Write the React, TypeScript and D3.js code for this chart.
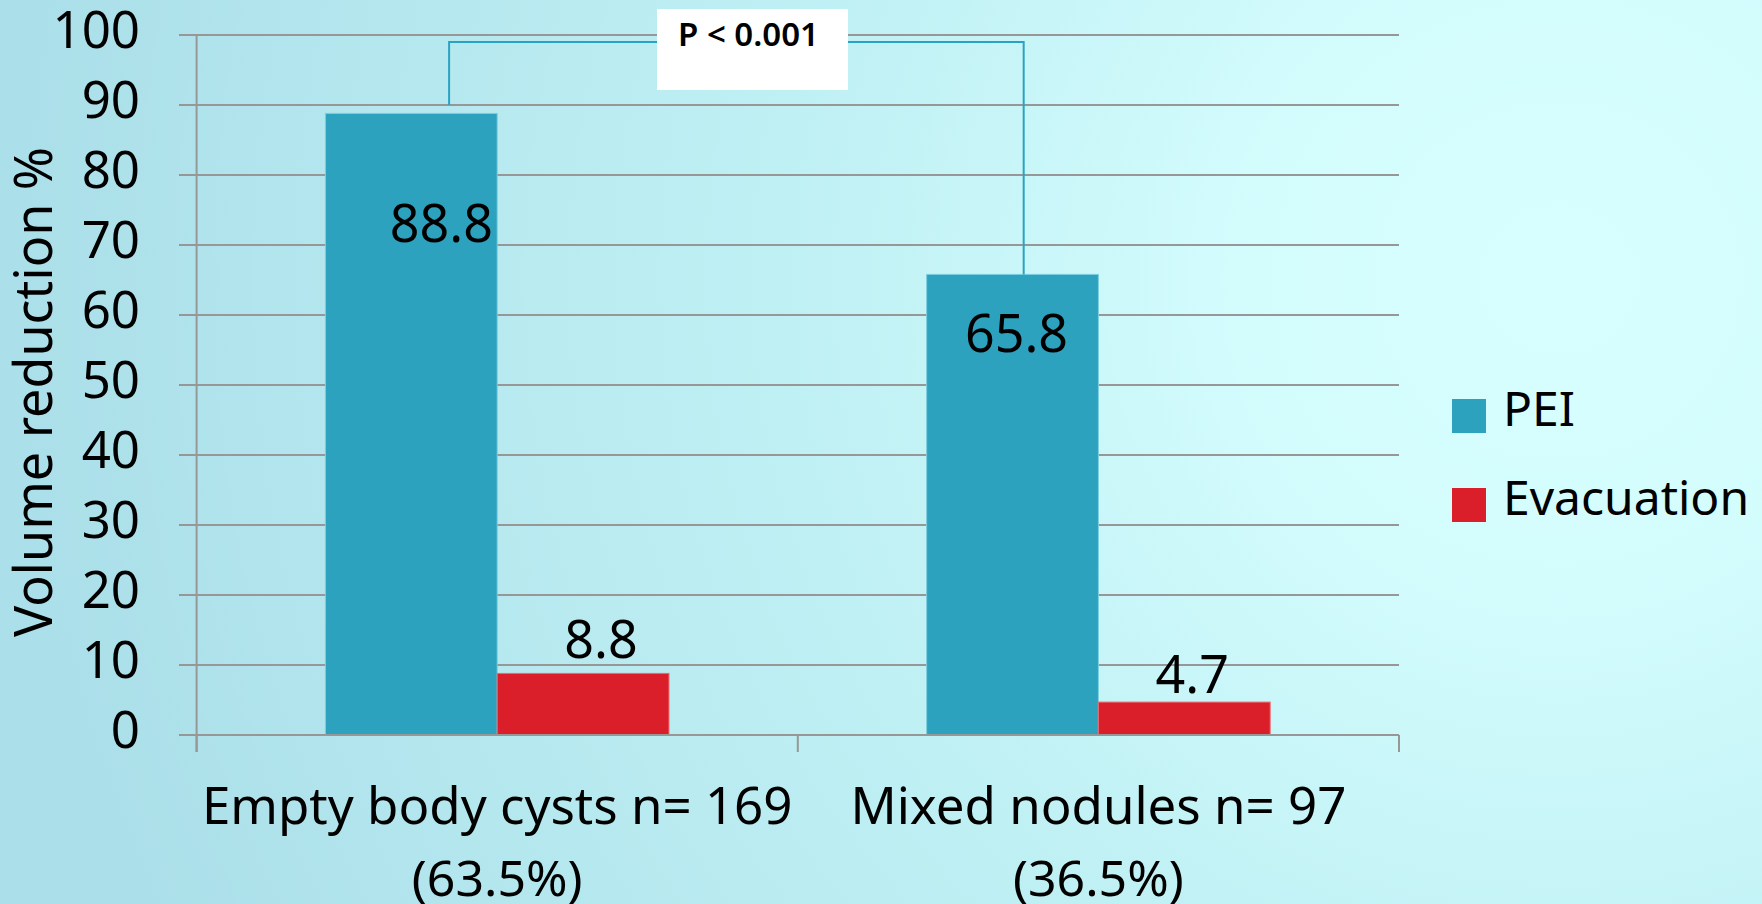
import { useRef, useEffect } from 'react';
import * as d3 from 'd3';

const categories = ['Empty body cysts n= 169', 'Mixed nodules n= 97'];
const categoryShares = ['(63.5%)', '(36.5%)'];
const series = ['PEI', 'Evacuation'];
const peiValues = [88.8, 65.8];
const evacuationValues = [8.8, 4.7];
const yTicks = [0, 10, 20, 30, 40, 50, 60, 70, 80, 90, 100];
const pLabel = 'P < 0.001';
const yTitle = 'Volume reduction %';

const colors: Record<string, string> = { PEI: '#2ca2bf', Evacuation: '#db1f2a' };
// hand-placed label nudges from the original slide (px: dx, dy from bar top)
const labelNudge: Record<string, [number, number][]> = {
  PEI: [[30, 108], [4, 57]],
  Evacuation: [[18, -36], [8, -30]],
};

const W = 1762;
const H = 904;
const FONT = '"Noto Sans", "Open Sans", sans-serif';

export default function App() {
  const svgRef = useRef<SVGSVGElement>(null);

  useEffect(() => {
    if (!svgRef.current) return;
    const svg = d3.select(svgRef.current);
    svg.selectAll('*').remove();

    const left = 196.6;
    const right = 1399;
    const top = 35;
    const bottom = 735;

    const x = d3.scaleBand<string>().domain(categories).range([left, right]);
    const xs = d3
      .scaleBand<string>()
      .domain(series)
      .range([0, x.bandwidth()])
      .paddingInner(0)
      .paddingOuter(0.75);
    const y = d3.scaleLinear().domain([0, 100]).range([bottom, top]);

    // background
    const defs = svg.append('defs');
    const grad = defs
      .append('radialGradient')
      .attr('id', 'bg')
      .attr('gradientUnits', 'userSpaceOnUse')
      .attr('cx', 1560)
      .attr('cy', 280)
      .attr('r', 1550);
    grad.append('stop').attr('offset', 0).attr('stop-color', '#d8ffff');
    grad.append('stop').attr('offset', 0.2).attr('stop-color', '#d3fcfd');
    grad.append('stop').attr('offset', 0.5).attr('stop-color', '#bff0f4');
    grad.append('stop').attr('offset', 1).attr('stop-color', '#abdfe9');
    svg.append('rect').attr('width', W).attr('height', H).attr('fill', 'url(#bg)');

    // gridlines + y ticks
    svg
      .append('g')
      .selectAll('line')
      .data(yTicks)
      .join('line')
      .attr('x1', left - 17.6)
      .attr('x2', right)
      .attr('y1', (d) => y(d))
      .attr('y2', (d) => y(d))
      .attr('stroke', '#979797')
      .attr('stroke-width', 2);

    svg
      .append('g')
      .selectAll('text')
      .data(yTicks)
      .join('text')
      .attr('x', 140)
      .attr('y', (d) => y(d) - 7)
      .attr('text-anchor', 'end')
      .attr('dominant-baseline', 'central')
      .attr('font-family', FONT)
      .attr('font-size', 51)
      .attr('fill', '#000')
      .text((d) => d);

    // y axis line
    svg
      .append('line')
      .attr('x1', left)
      .attr('x2', left)
      .attr('y1', top)
      .attr('y2', bottom + 17)
      .attr('stroke', '#979797')
      .attr('stroke-width', 2);

    // x ticks at band edges
    const edges = [left, ...categories.map((c) => (x(c) ?? 0) + x.bandwidth())];
    svg
      .append('g')
      .selectAll('line')
      .data(edges)
      .join('line')
      .attr('x1', (d) => d)
      .attr('x2', (d) => d)
      .attr('y1', bottom)
      .attr('y2', bottom + 17)
      .attr('stroke', '#979797')
      .attr('stroke-width', 2);

    // bars
    const valuesBySeries: Record<string, number[]> = {
      PEI: peiValues,
      Evacuation: evacuationValues,
    };
    const barG = svg.append('g');
    series.forEach((s) => {
      categories.forEach((c, i) => {
        const v = valuesBySeries[s][i];
        const bx = (x(c) ?? 0) + (xs(s) ?? 0);
        barG
          .append('rect')
          .attr('x', bx)
          .attr('y', y(v))
          .attr('width', xs.bandwidth())
          .attr('height', y(0) - y(v))
          .attr('fill', colors[s])
          .attr('stroke', s === 'PEI' ? '#7ccfdf' : '#e86a70')
          .attr('stroke-width', 1);
      });
    });

    // axis baseline over bars
    svg
      .append('line')
      .attr('x1', left - 17.6)
      .attr('x2', right)
      .attr('y1', bottom)
      .attr('y2', bottom)
      .attr('stroke', '#979797')
      .attr('stroke-width', 2);

    // data labels
    series.forEach((s) => {
      categories.forEach((c, i) => {
        const v = valuesBySeries[s][i];
        const [dx, dy] = labelNudge[s][i];
        const cx = (x(c) ?? 0) + (xs(s) ?? 0) + xs.bandwidth() / 2;
        svg
          .append('text')
          .attr('x', cx + dx)
          .attr('y', y(v) + dy)
          .attr('text-anchor', 'middle')
          .attr('dominant-baseline', 'central')
          .attr('font-family', FONT)
          .attr('font-size', 52)
          .attr('fill', '#000')
          .text(v.toFixed(1));
      });
    });

    // significance bracket
    const peiX0 = (x(categories[0]) ?? 0) + (xs('PEI') ?? 0);
    const peiX1 = (x(categories[1]) ?? 0) + (xs('PEI') ?? 0);
    const bl = peiX0 + xs.bandwidth() * 0.72;
    const br = peiX1 + xs.bandwidth() * 0.565;
    const bTop = y(99);
    svg
      .append('path')
      .attr('d', `M${bl},${y(90)}V${bTop}H${br}V${y(peiValues[1])}`)
      .attr('fill', 'none')
      .attr('stroke', '#2aa3c2')
      .attr('stroke-width', 2);

    svg
      .append('rect')
      .attr('x', 657)
      .attr('y', 9)
      .attr('width', 191)
      .attr('height', 81)
      .attr('fill', '#fff');
    svg
      .append('text')
      .attr('x', 678)
      .attr('y', 46)
      .attr('font-family', FONT)
      .attr('font-size', 33)
      .attr('font-weight', 600)
      .attr('fill', '#000')
      .text(pLabel);

    // x labels
    categories.forEach((c, i) => {
      const cx = (x(c) ?? 0) + x.bandwidth() / 2;
      svg
        .append('text')
        .attr('x', cx)
        .attr('y', 824)
        .attr('text-anchor', 'middle')
        .attr('font-family', FONT)
        .attr('font-size', 51)
        .attr('fill', '#000')
        .text(c);
      svg
        .append('text')
        .attr('x', cx)
        .attr('y', 896)
        .attr('text-anchor', 'middle')
        .attr('font-family', FONT)
        .attr('font-size', 50)
        .attr('fill', '#000')
        .text(categoryShares[i]);
    });

    // y title
    svg
      .append('text')
      .attr('transform', 'translate(52,392) rotate(-90)')
      .attr('text-anchor', 'middle')
      .attr('font-family', FONT)
      .attr('font-size', 52)
      .attr('fill', '#000')
      .text(yTitle);

    // legend
    const legend = svg.append('g');
    series.forEach((s, i) => {
      const ly = 399 + i * 89;
      legend
        .append('rect')
        .attr('x', 1452)
        .attr('y', ly)
        .attr('width', 34)
        .attr('height', 34)
        .attr('fill', colors[s]);
      legend
        .append('text')
        .attr('x', 1503)
        .attr('y', ly + 27)
        .attr('font-family', FONT)
        .attr('font-size', 48)
        .attr('fill', '#000')
        .text(s);
    });
  }, []);

  return (
    <svg
      ref={svgRef}
      width={W}
      height={H}
      style={{ position: 'absolute', left: 0, top: 0, display: 'block' }}
    />
  );
}
